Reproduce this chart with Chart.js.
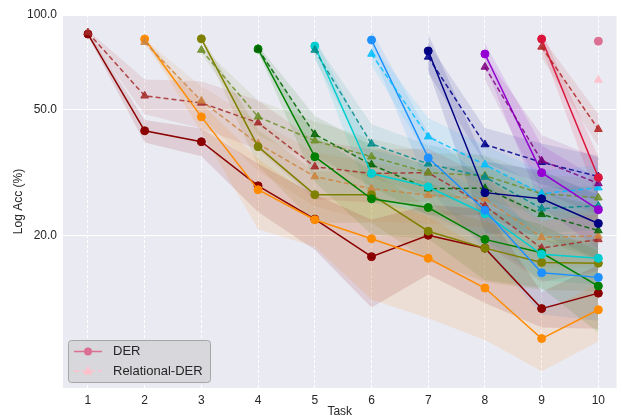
<!DOCTYPE html>
<html>
<head>
<meta charset="utf-8">
<script src="https://cdn.jsdelivr.net/npm/chart.js"></script>
<style>
  body { margin: 0; background: #fff; }
  #wrap { width: 622px; height: 420px; }
</style>
</head>
<body>
<div id="wrap"><canvas id="accChart" width="622" height="420"></canvas></div>
<script>
const taskTicks = [1, 2, 3, 4, 5, 6, 7, 8, 9, 10];
const yTickValues = [20, 50, 100];

// DER: accuracy of task t, measured after tasks t..10
const der1 = [87, 42.9, 39.6, 28.7, 22.5, 17.1, 20.0, 18.2, 11.7, 13.1];
const der2 = [83.9, 47.5, 27.9, 22.4, 19.5, 16.9, 13.6, 9.4, 11.6];
const der3 = [84, 38.2, 26.9, 26.9, 20.6, 18.2, 16.4, 16.3];
const der4 = [78, 35.5, 26.1, 24.5, 19.4, 17.6, 13.8];
const der5 = [79.7, 31.4, 28.5, 23.4, 17.4, 16.9];
const der6 = [83.3, 35.2, 24.0, 15.2, 14.7];
const der7 = [76.9, 27.3, 26.1, 21.8];
const der8 = [75.2, 31.6, 24.1];
const der9 = [83.9, 30.5];
const der10 = [82.6];

// Relational-DER
const rel1 = [88, 55.4, 52.6, 45.5, 33.0, 31.4, 31.6, 24.8, 18.2, 19.4];
const rel2 = [82, 53.4, 39.0, 30.7, 28.1, 26.8, 26.1, 19.7, 19.9];
const rel3 = [77.4, 47.5, 39.9, 35.5, 31.6, 30.9, 27.1, 26.3];
const rel4 = [78, 41.8, 33.5, 28.1, 28.2, 23.3, 20.7];
const rel5 = [77.4, 39.0, 33.7, 30.6, 24.3, 24.8];
const rel6 = [75.2, 41.1, 33.5, 27.1, 28.3];
const rel7 = [73.6, 38.8, 34.1, 30.7];
const rel8 = [68.4, 34.5, 29.2];
const rel9 = [79.2, 43.4];
const rel10 = [62.2];

// standard deviations (shaded bands)
const derStd1 = [1.5, 3.5, 4, 5, 4.5, 5.3, 5, 6, 1.5, 3];
const derStd2 = [1, 5, 7, 4, 7, 6, 4.3, 2, 2.4];
const derStd3 = [1.5, 5, 5, 5, 4, 4, 3, 3];
const derStd4 = [1.5, 6, 6, 5, 5, 4, 4];
const derStd5 = [5, 6, 5, 4, 3, 3];
const derStd6 = [6, 7, 6, 4, 4];
const derStd7 = [10, 7, 6, 5];
const derStd8 = [6, 7, 6];
const derStd9 = [5, 5];
const derStd10 = [1];

const relStd1 = [1.5, 7, 9, 8, 7, 6, 6, 6, 4, 4];
const relStd2 = [1.5, 6, 7, 6, 6, 5, 5, 4, 4];
const relStd3 = [2, 6, 6, 5, 5, 5, 4, 4];
const relStd4 = [2, 6, 5, 5, 5, 4, 4];
const relStd5 = [5, 6, 5, 5, 4, 4];
const relStd6 = [6, 6, 5, 5, 5];
const relStd7 = [8, 5, 5, 5];
const relStd8 = [6, 7, 6];
const relStd9 = [6, 5];
const relStd10 = [1];

const derColors = ['#8B0000', '#FF8C00', '#808000', '#008000', '#00CED1',
                   '#1E90FF', '#000080', '#9400D3', '#DC143C', '#DB7093'];
const relColors = ['#A52A2A', '#CD853F', '#6B8E23', '#006400', '#008B8B',
                   '#00BFFF', '#00008B', '#800080', '#B22222', '#FFC0CB'];

const derSeries = [der1, der2, der3, der4, der5, der6, der7, der8, der9, der10];
const relSeries = [rel1, rel2, rel3, rel4, rel5, rel6, rel7, rel8, rel9, rel10];
const derStdSeries = [derStd1, derStd2, derStd3, derStd4, derStd5, derStd6, derStd7, derStd8, derStd9, derStd10];
const relStdSeries = [relStd1, relStd2, relStd3, relStd4, relStd5, relStd6, relStd7, relStd8, relStd9, relStd10];

const FONT = "'Liberation Sans', Arial, sans-serif";
const TEXT = '#262626';

function rgba(hex, a) {
  const n = parseInt(hex.slice(1), 16);
  return `rgba(${(n >> 16) & 255}, ${(n >> 8) & 255}, ${n & 255}, ${a})`;
}

const datasets = [];
let seq = 0;

function addBand(values, std, start, color, alpha) {
  datasets.push({
    data: values.map((v, i) => ({ x: start + i, y: v + std[i] })),
    borderWidth: 0, pointRadius: 0, fill: false, order: 1000
  });
  datasets.push({
    data: values.map((v, i) => ({ x: start + i, y: Math.max(v - std[i], 1) })),
    borderWidth: 0, pointRadius: 0, fill: '-1',
    backgroundColor: rgba(color, alpha), order: 1000
  });
}

function addLine(values, start, color, dashed) {
  const c = dashed ? rgba(color, 0.85) : color;
  datasets.push({
    data: values.map((v, i) => ({ x: start + i, y: v })),
    borderColor: c,
    backgroundColor: c,
    pointBackgroundColor: c,
    pointBorderColor: c,
    borderWidth: 1.5,
    borderDash: dashed ? [5, 3] : [],
    pointStyle: dashed ? 'triangle' : 'circle',
    pointRadius: dashed ? 4.5 : 4,
    pointBorderWidth: 1,
    fill: false,
    tension: 0,
    order: 100 - (seq++)
  });
}

for (let t = 0; t < 10; t++) {
  addBand(derSeries[t], derStdSeries[t], t + 1, derColors[t], 0.12);
  addBand(relSeries[t], relStdSeries[t], t + 1, relColors[t], 0.10);
}
for (let t = 0; t < 10; t++) {
  addLine(derSeries[t], t + 1, derColors[t], false);
  addLine(relSeries[t], t + 1, relColors[t], true);
}

// plot background like seaborn darkgrid
const areaBackground = {
  id: 'areaBackground',
  beforeDraw(chart) {
    const { ctx, chartArea: a } = chart;
    ctx.save();
    ctx.fillStyle = '#EAEAF2';
    ctx.fillRect(a.left, a.top, a.right - a.left, a.bottom - a.top);
    ctx.restore();
  }
};

// legend box inside the lower left corner
const innerLegend = {
  id: 'innerLegend',
  afterDraw(chart) {
    const ctx = chart.ctx;
    const bx = 68.5, by = 340.5, bw = 142, bh = 42, r = 3;
    ctx.save();
    ctx.beginPath();
    ctx.moveTo(bx + r, by);
    ctx.arcTo(bx + bw, by, bx + bw, by + bh, r);
    ctx.arcTo(bx + bw, by + bh, bx, by + bh, r);
    ctx.arcTo(bx, by + bh, bx, by, r);
    ctx.arcTo(bx, by, bx + bw, by, r);
    ctx.closePath();
    ctx.fillStyle = 'rgba(214, 214, 218, 0.95)';
    ctx.fill();
    ctx.strokeStyle = '#a6a6a6';
    ctx.lineWidth = 1;
    ctx.stroke();

    // DER entry
    let y = 351.5;
    ctx.strokeStyle = derColors[9];
    ctx.lineWidth = 1.5;
    ctx.setLineDash([]);
    ctx.beginPath(); ctx.moveTo(74, y); ctx.lineTo(102, y); ctx.stroke();
    ctx.fillStyle = derColors[9];
    ctx.beginPath(); ctx.arc(88, y, 4, 0, Math.PI * 2); ctx.fill();

    // Relational-DER entry
    y = 371;
    ctx.strokeStyle = relColors[9];
    ctx.setLineDash([5, 3]);
    ctx.beginPath(); ctx.moveTo(74, y); ctx.lineTo(102, y); ctx.stroke();
    ctx.setLineDash([]);
    ctx.fillStyle = relColors[9];
    ctx.beginPath();
    ctx.moveTo(88, y - 5); ctx.lineTo(92.5, y + 3.5); ctx.lineTo(83.5, y + 3.5);
    ctx.closePath(); ctx.fill();

    ctx.fillStyle = TEXT;
    ctx.font = '13px ' + FONT;
    ctx.textBaseline = 'middle';
    ctx.textAlign = 'left';
    ctx.fillText('DER', 113, 351.5);
    ctx.fillText('Relational-DER', 113, 371);
    ctx.restore();
  }
};

Chart.defaults.font.family = FONT;
Chart.defaults.color = TEXT;

new Chart(document.getElementById('accChart'), {
  type: 'line',
  data: { datasets },
  plugins: [areaBackground, innerLegend],
  options: {
    responsive: false,
    animation: false,
    layout: { padding: { left: 0, right: 2, top: 15, bottom: 0 } },
    plugins: {
      legend: { display: false },
      tooltip: { enabled: false },
      filler: { drawTime: 'beforeDatasetsDraw' }
    },
    scales: {
      x: {
        type: 'linear',
        min: 0.56,
        max: 10.32,
        afterBuildTicks: (scale) => { scale.ticks = taskTicks.map(v => ({ value: v })); },
        afterFit: (scale) => { scale.height = 32; },
        ticks: { font: { size: 12 }, color: TEXT, padding: 5, maxRotation: 0, callback: v => String(v) },
        grid: { color: '#ffffff', lineWidth: 1, drawTicks: false },
        border: { display: false, dash: [3, 2] },
        title: { display: true, text: 'Task', font: { size: 12 }, color: TEXT, padding: { top: 0, bottom: 1 } }
      },
      y: {
        type: 'logarithmic',
        min: 6.55,
        max: 100,
        afterBuildTicks: (scale) => { scale.ticks = yTickValues.map(v => ({ value: v })); },
        afterFit: (scale) => { scale.width = 63; },
        ticks: { font: { size: 12 }, color: TEXT, padding: 6, callback: v => Number(v).toFixed(1) },
        grid: { color: '#ffffff', lineWidth: 1, drawTicks: false },
        border: { display: false },
        title: { display: true, text: 'Log Acc (%)', font: { size: 12 }, color: TEXT, padding: { top: 11, bottom: 0 } }
      }
    }
  }
});
</script>
</body>
</html>
